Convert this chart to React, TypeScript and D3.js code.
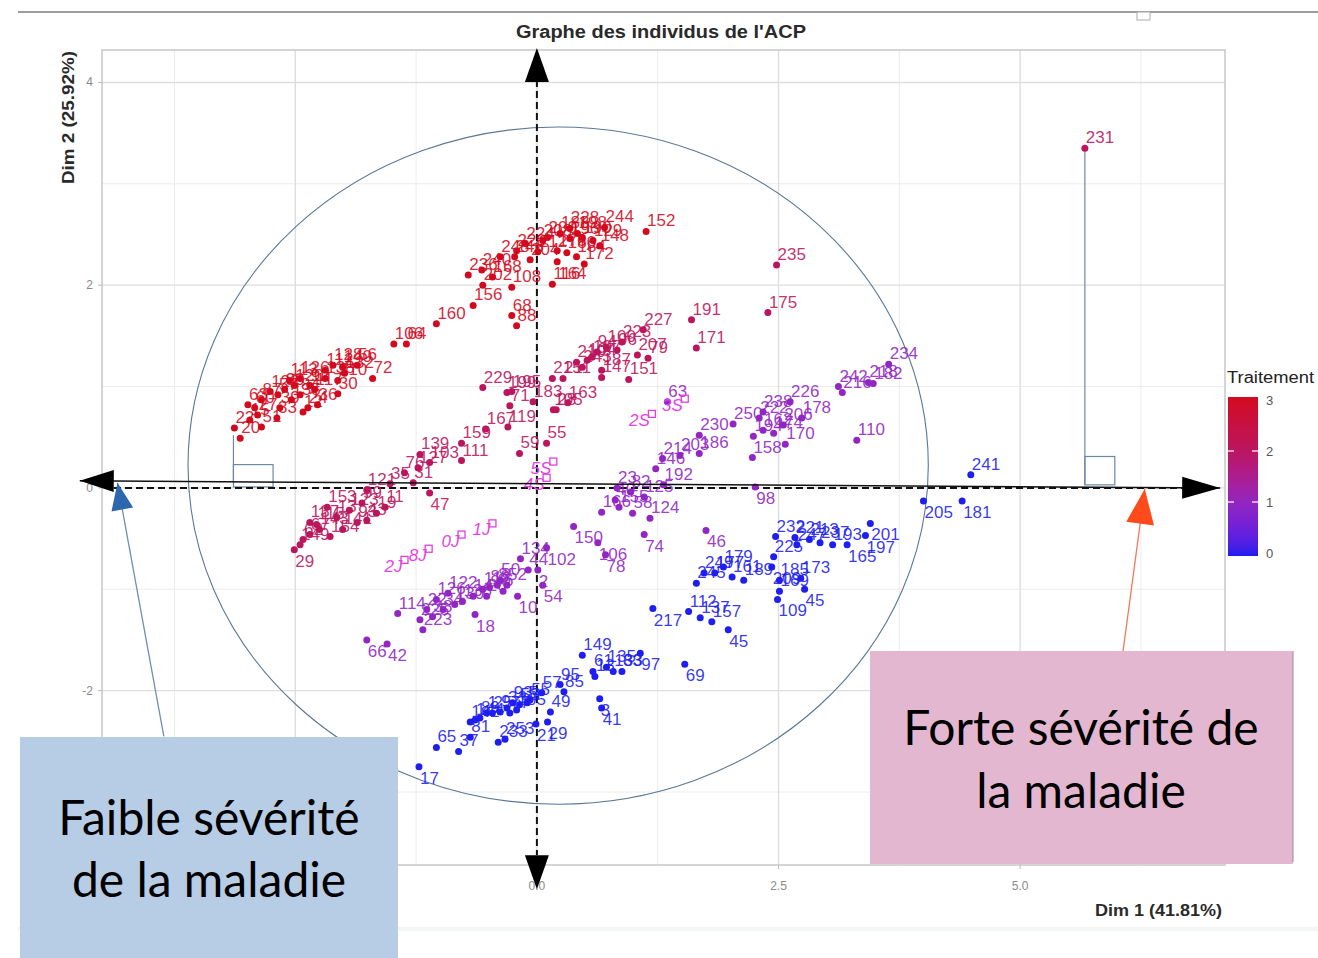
import React from "react";
import * as d3 from "d3";

type Ind = [string, number, number];

// Individuals, grouped by Traitement value (label, Dim 1, Dim 2)
const indT3: Ind[] = [
  ["160", -1.04, 1.62], ["106", -1.48, 1.42], ["64", -1.35, 1.42], ["56", -1.86, 1.21],
  ["72", -1.70, 1.08], ["140", -2.01, 1.19], ["128", -2.11, 1.21], ["112", -2.19, 1.16],
  ["138", -2.19, 1.08], ["92", -2.35, 1.01], ["210", -2.06, 1.06], ["113", -2.56, 1.06],
  ["120", -2.51, 1.01], ["126", -2.45, 1.08], ["57", -2.68, 0.92], ["63", -2.99, 0.82],
  ["87", -2.85, 0.87], ["60", -2.92, 0.79], ["20", -3.07, 0.49], ["22", -3.13, 0.59],
  ["30", -2.06, 0.93], ["36", -2.27, 0.82], ["24", -2.37, 0.79], ["12", -2.42, 0.75],
  ["39", -2.66, 0.79], ["33", -2.69, 0.69], ["51", -2.85, 0.60], ["27", -2.89, 0.72],
  ["90", -2.61, 0.97], ["84", -2.45, 0.92], ["135", -2.54, 0.87], ["117", -2.30, 0.97],
  ["122", -2.76, 0.95], ["15", -2.97, 0.67], ["132", -1.99, 1.13],
  ["224", -0.12, 2.41], ["152", 1.13, 2.53], ["244", 0.70, 2.57], ["228", 0.34, 2.56],
  ["198", 0.42, 2.51], ["172", 0.49, 2.21], ["164", 0.21, 2.23], ["116", 0.16, 2.01],
  ["168", -0.46, 2.08], ["108", -0.26, 1.98], ["68", -0.26, 1.70], ["88", -0.21, 1.60],
  ["156", -0.66, 1.80], ["236", -0.71, 2.10], ["202", -0.56, 2.00], ["240", -0.57, 2.15],
  ["248", -0.38, 2.28], ["246", -0.23, 2.28], ["220", -0.21, 2.34], ["204", -0.07, 2.25],
  ["212", 0.01, 2.33], ["208", 0.06, 2.44], ["200", 0.11, 2.47], ["176", 0.21, 2.34],
  ["180", 0.31, 2.32], ["184", 0.41, 2.28], ["196", 0.34, 2.46], ["188", 0.24, 2.51],
  ["190", 0.47, 2.47], ["129", 0.58, 2.44], ["148", 0.65, 2.39],
];

const indT2: Ind[] = [
  ["227", 1.10, 1.56], ["191", 1.60, 1.66], ["171", 1.65, 1.38], ["235", 2.48, 2.20],
  ["175", 2.39, 1.73], ["231", 5.67, 3.35], ["223", 0.88, 1.44], ["207", 1.04, 1.31],
  ["79", 1.15, 1.28], ["151", 0.95, 1.07], ["147", 0.67, 1.09], ["187", 0.67, 1.16],
  ["163", 0.32, 0.84], ["105", 0.17, 0.77], ["28", 0.20, 0.77], ["215", 0.16, 1.08],
  ["211", 0.27, 1.08], ["219", 0.41, 1.24], ["243", 0.47, 1.19], ["104", 0.52, 1.26],
  ["107", 0.57, 1.29], ["94", 0.62, 1.34], ["100", 0.72, 1.39], ["96", 0.83, 1.36],
  ["55", 0.10, 0.44], ["59", -0.18, 0.34], ["119", -0.30, 0.60], ["167", -0.53, 0.58],
  ["229", -0.56, 0.99], ["199", -0.31, 0.94], ["195", -0.26, 0.95], ["183", -0.04, 0.85],
  ["71", -0.28, 0.81], ["159", -0.78, 0.44], ["111", -0.78, 0.27], ["103", -1.11, 0.25],
  ["127", -1.23, 0.20], ["76", -1.37, 0.15], ["139", -1.21, 0.33], ["47", -1.11, -0.05],
  ["31", -1.28, 0.05], ["35", -1.52, 0.04],
  ["29", -2.51, -0.61], ["62", -2.42, -0.51], ["67", -2.35, -0.46], ["115", -2.28, -0.36],
  ["153", -2.17, -0.19], ["123", -1.94, -0.22], ["13", -2.07, -0.29], ["154", -2.14, -0.48],
  ["141", -2.01, -0.41], ["93", -1.86, -0.34], ["43", -1.76, -0.32], ["19", -1.66, -0.25],
  ["11", -1.57, -0.19], ["99", -1.81, -0.15], ["121", -1.76, -0.02], ["137", -2.35, -0.34],
  ["143", -2.25, -0.41], ["149", -2.45, -0.56],
];

const indT1: Ind[] = [
  ["234", 3.64, 1.22], ["182", 3.48, 1.03], ["242", 3.12, 1.00], ["216", 3.16, 0.94],
  ["218", 3.43, 1.04], ["226", 2.62, 0.85], ["178", 2.74, 0.69], ["238", 2.34, 0.75],
  ["206", 2.55, 0.62], ["222", 2.30, 0.69], ["162", 2.34, 0.57], ["174", 2.45, 0.54],
  ["170", 2.57, 0.43], ["194", 2.24, 0.51], ["158", 2.23, 0.30], ["250", 2.03, 0.63],
  ["186", 1.68, 0.34], ["230", 1.68, 0.52], ["203", 1.48, 0.32], ["214", 1.30, 0.29],
  ["146", 1.23, 0.19], ["110", 3.31, 0.47], ["98", 2.26, 0.01], ["192", 1.31, 0.03],
  ["63", 1.35, 0.85],
  ["23", 0.83, 0.00], ["82", 0.97, -0.04], ["125", 1.11, -0.09], ["40", 0.81, -0.12],
  ["150", 0.38, -0.38], ["166", 0.67, -0.24], ["155", 0.85, -0.19], ["58", 0.99, -0.25],
  ["124", 1.17, -0.30], ["106", 0.63, -0.54], ["78", 0.71, -0.66], ["74", 1.11, -0.46],
  ["102", 0.10, -0.59], ["46", 1.75, -0.42],
  ["114", -1.44, -1.24], ["66", -1.76, -1.50], ["42", -1.55, -1.54], ["134", -0.17, -0.70],
  ["10", -0.20, -1.07], ["54", 0.06, -0.96], ["2", 0.01, -0.81], ["44", -0.09, -0.81],
  ["52", -0.31, -0.96], ["18", -0.64, -1.25], ["122", -0.92, -1.04], ["126", -1.04, -1.10],
  ["22", -1.14, -1.20], ["225", -1.21, -1.30], ["223", -1.18, -1.40], ["38", -1.08, -1.27],
  ["34", -0.97, -1.20], ["130", -0.85, -1.15], ["138", -0.77, -1.12], ["14", -0.66, -1.07],
  ["118", -0.56, -1.00], ["86", -0.49, -0.98], ["8", -0.41, -0.96], ["50", -0.38, -0.91],
  ["26", -0.52, -1.07], ["6", -0.35, -1.02],
];

const indT0: Ind[] = [
  ["17", -1.22, -2.75], ["65", -1.04, -2.56], ["37", -0.81, -2.60], ["81", -0.69, -2.46],
  ["233", -0.40, -2.51], ["253", -0.33, -2.48], ["142", -0.69, -2.31], ["144", -0.64, -2.29],
  ["21", -0.01, -2.33], ["57", 0.05, -2.02], ["29", 0.11, -2.31], ["49", 0.14, -2.21],
  ["95", 0.24, -1.94], ["85", 0.28, -2.01], ["149", 0.47, -1.65], ["61", 0.58, -1.81],
  ["13", 0.60, -1.86], ["135", 0.72, -1.77], ["133", 0.79, -1.81], ["83", 0.88, -1.81],
  ["97", 1.07, -1.63], ["3", 0.65, -2.08], ["41", 0.67, -2.17], ["217", 1.20, -1.19],
  ["55", -0.07, -2.09], ["5", -0.10, -2.12], ["53", -0.18, -2.14], ["93", -0.25, -2.12],
  ["33", -0.31, -2.17], ["9", -0.38, -2.21], ["25", -0.46, -2.22], ["1", -0.52, -2.22],
  ["89", -0.59, -2.27], ["77", -0.28, -2.22], ["105", -0.21, -2.19],
  ["241", 4.49, 0.13], ["205", 4.00, -0.13], ["181", 4.40, -0.13], ["201", 3.45, -0.35],
  ["197", 3.40, -0.47], ["165", 3.21, -0.56], ["232", 2.47, -0.48], ["221", 2.67, -0.49],
  ["213", 2.82, -0.51], ["237", 2.93, -0.54], ["193", 3.06, -0.56], ["225", 2.45, -0.68],
  ["247", 2.69, -0.56], ["209", 2.43, -0.78], ["185", 2.51, -0.91], ["173", 2.73, -0.89],
  ["169", 2.51, -1.02], ["45", 2.77, -1.00], ["109", 2.49, -1.10], ["189", 2.14, -0.91],
  ["245", 1.65, -0.94], ["249", 1.73, -0.84], ["177", 1.84, -0.84], ["179", 1.93, -0.78],
  ["161", 2.02, -0.88], ["112", 1.57, -1.22], ["137", 1.69, -1.28], ["157", 1.81, -1.32],
  ["45", 1.98, -1.40], ["69", 1.53, -1.74],
];

// Supplementary individuals (open squares)
const suppInd: Ind[] = [
  ["2J", -1.37, -0.71], ["8J", -1.12, -0.60], ["0J", -0.78, -0.46], ["1J", -0.46, -0.35],
  ["4S", 0.10, 0.10], ["5S", 0.17, 0.26], ["3S", 1.53, 0.88], ["2S", 1.19, 0.73],
];

const groups: { t: number; data: Ind[] }[] = [
  { t: 3, data: indT3 },
  { t: 2, data: indT2 },
  { t: 1, data: indT1 },
  { t: 0, data: indT0 },
];

// labels drawn below their point ("id@traitement")
const labelBelow = new Set([
  "205@0", "181@0", "109@0", "17@0", "69@0", "201@0", "197@0", "165@0", "217@0", "97@0",
  "41@0", "3@0", "21@0", "29@0", "45@0", "209@0", "98@1", "46@1", "74@1", "78@1", "102@1",
  "106@1", "2@1", "54@1", "10@1", "18@1", "42@1", "66@1", "150@1", "47@2", "29@2", "164@3",
]);

const traitementDomain = [0, 1, 2, 3];
const traitementColors = ["#1e1ef0", "#9226c2", "#bb155e", "#d30a1e"];

const xMajor = [-2.5, 0, 2.5, 5.0];
const xMinor = [-3.75, -1.25, 1.25, 3.75, 6.25];
const yMajor = [-2, 0, 2, 4];
const yMinor = [-3, -1, 1, 3];
const legendTicks = [0, 1, 2, 3];

const W = 1318;
const H = 958;
const P = { l: 102, t: 50, r: 1225, b: 865 };

function head(x1: number, y1: number, x2: number, y2: number, len: number, hw: number) {
  const dx = x2 - x1, dy = y2 - y1;
  const L = Math.hypot(dx, dy);
  const ux = dx / L, uy = dy / L;
  const bx = x2 - ux * len, by = y2 - uy * len;
  return `M${x2},${y2}L${bx - uy * hw},${by + ux * hw}L${bx + uy * hw},${by - ux * hw}Z`;
}

export default function App() {
  const x = d3.scaleLinear().domain([-4.5, 7.12]).range([P.l, P.r]);
  const y = d3.scaleLinear().domain([-3.72, 4.32]).range([P.b, P.t]);
  const color = d3
    .scaleLinear<string>()
    .domain(traitementDomain)
    .range(traitementColors)
    .interpolate(d3.interpolateLab);
  const ly = d3.scaleLinear().domain([0, 3]).range([553, 400]);
  const labelFont = "Liberation Sans, Arial, sans-serif";

  // annotation geometry in data units
  const hArrow = { a: [-4.73, 0.07], b: [7.07, 0.0] };
  const vArrow = { a: [0, 4.34], b: [0, -3.96] };
  const blueArrow = { a: [-3.86, -2.45], b: [-4.34, 0.05] };
  const redArrow = { a: [6.06, -1.65], b: [6.29, -0.01] };
  const ell = { cx: 0.22, cy: 0.22, rx: 3.83, ry: 3.34 };

  const px = (p: number[]) => [x(p[0]), y(p[1])];
  const ha = px(hArrow.a), hb = px(hArrow.b);
  const va = px(vArrow.a), vb = px(vArrow.b);
  const ba = px(blueArrow.a), bb = px(blueArrow.b);
  const ra = px(redArrow.a), rb = px(redArrow.b);

  const stops = d3.range(0, 1.0001, 0.05);

  return (
    <svg width={W} height={H} style={{ position: "absolute", left: 0, top: 0, background: "#fff" }}>
      <defs>
        <linearGradient id="lg" x1="0" y1="1" x2="0" y2="0">
          {stops.map((s) => (
            <stop key={s} offset={s} stopColor={color(s * 3)} />
          ))}
        </linearGradient>
      </defs>
      <rect x={0} y={0} width={W} height={H} fill="#fff" />
      {/* page decorations */}
      <line x1={18} x2={W} y1={12} y2={12} stroke="#9c9c9c" strokeWidth={2} />
      <rect x={1137} y={12} width={13} height={8} fill="#fff" stroke="#aaa" strokeWidth={1} />
      <rect x={18} y={927} width={W - 18} height={4} fill="#f1f5f5" />

      {/* grid */}
      {xMinor.map((v) => (
        <line key={"xm" + v} x1={x(v)} x2={x(v)} y1={P.t} y2={P.b} stroke="#ececec" strokeWidth={1} />
      ))}
      {yMinor.map((v) => (
        <line key={"ym" + v} y1={y(v)} y2={y(v)} x1={P.l} x2={P.r} stroke="#ececec" strokeWidth={1} />
      ))}
      {xMajor.map((v) => (
        <line key={"xM" + v} x1={x(v)} x2={x(v)} y1={P.t} y2={P.b} stroke="#dedede" strokeWidth={1.4} />
      ))}
      {yMajor.map((v) => (
        <line key={"yM" + v} y1={y(v)} y2={y(v)} x1={P.l} x2={P.r} stroke="#dedede" strokeWidth={1.4} />
      ))}
      <rect x={P.l} y={P.t} width={P.r - P.l} height={P.b - P.t} fill="none" stroke="#c4c4c4" strokeWidth={1.4} />

      {/* ticks */}
      {yMajor.map((v) => (
        <g key={"yt" + v}>
          <line x1={P.l - 4} x2={P.l} y1={y(v)} y2={y(v)} stroke="#bbb" />
          <text x={P.l - 9} y={y(v) + 4} textAnchor="end" fontSize={12} fill="#8a8a8a" fontFamily={labelFont}>
            {v}
          </text>
        </g>
      ))}
      {xMajor.map((v) => (
        <g key={"xt" + v}>
          <line x1={x(v)} x2={x(v)} y1={P.b} y2={P.b + 4} stroke="#bbb" />
          <text x={x(v)} y={P.b + 25} textAnchor="middle" fontSize={12} fill="#8a8a8a" fontFamily={labelFont}>
            {v.toFixed(1)}
          </text>
        </g>
      ))}

      {/* ellipse */}
      <ellipse
        cx={x(ell.cx)}
        cy={y(ell.cy)}
        rx={x(ell.cx + ell.rx) - x(ell.cx)}
        ry={y(ell.cy) - y(ell.cy + ell.ry)}
        fill="none"
        stroke="#5a7896"
        strokeWidth={1.1}
      />

      {/* projection marks */}
      <line x1={x(5.67)} x2={x(5.67)} y1={y(3.35)} y2={y(0.03)} stroke="#6d87a6" strokeWidth={1.2} />
      <rect x={x(5.67)} y={y(0.31)} width={x(5.98) - x(5.67)} height={y(0.03) - y(0.31)} fill="none" stroke="#6d87a6" strokeWidth={1.2} />
      <line x1={x(-3.14)} x2={x(-3.14)} y1={y(0.52)} y2={y(0.07)} stroke="#6d87a6" strokeWidth={1.2} />
      <rect x={x(-3.14)} y={y(0.23)} width={x(-2.73) - x(-3.14)} height={y(0.01) - y(0.23)} fill="none" stroke="#6d87a6" strokeWidth={1.2} />

      {/* axes at zero (dashed) */}
      <line x1={P.l + 12} x2={P.r - 40} y1={y(0)} y2={y(0)} stroke="#111" strokeWidth={2} strokeDasharray="7 4" />
      <line x1={x(0)} x2={x(0)} y1={P.t + 30} y2={P.b - 10} stroke="#111" strokeWidth={2} strokeDasharray="7 4" />

      {/* individuals */}
      {groups.map((g) =>
        g.data.map((d, i) => (
          <circle key={`p${g.t}-${i}`} cx={x(d[1])} cy={y(d[2])} r={3.5} fill={color(g.t)} />
        ))
      )}
      {groups.map((g) =>
        g.data.map((d, i) => {
          const below = labelBelow.has(`${d[0]}@${g.t}`);
          return (
            <text
              key={`l${g.t}-${i}`}
              x={x(d[1]) + 1}
              y={y(d[2]) + (below ? 17 : -5)}
              fontSize={17}
              fill={color(g.t)}
              fillOpacity={0.9}
              fontFamily={labelFont}
            >
              {d[0]}
            </text>
          );
        })
      )}
      {suppInd.map((d, i) => (
        <g key={"s" + i}>
          <rect x={x(d[1]) - 3.5} y={y(d[2]) - 3.5} width={7} height={7} fill="none" stroke="#e040e0" strokeWidth={1.3} />
          <text
            x={x(d[1]) - 2}
            y={y(d[2]) + 12}
            textAnchor="end"
            fontSize={17}
            fontStyle="italic"
            fill="#e444e4"
            fontFamily={labelFont}
          >
            {d[0]}
          </text>
        </g>
      ))}

      {/* axis arrows */}
      <line x1={ha[0]} y1={ha[1]} x2={hb[0]} y2={hb[1]} stroke="#111" strokeWidth={1.5} />
      <path d={head(hb[0], hb[1], ha[0], ha[1], 34, 11)} fill="#000" />
      <path d={head(ha[0], ha[1], hb[0], hb[1], 38, 11)} fill="#000" />
      <path d={head(vb[0], vb[1], va[0], va[1], 34, 12)} fill="#000" />
      <path d={head(va[0], va[1], vb[0], vb[1], 34, 12)} fill="#000" />

      {/* severity arrows */}
      <line x1={ba[0]} y1={ba[1]} x2={bb[0]} y2={bb[1]} stroke="#6f8fb3" strokeWidth={1.3} />
      <path d={head(ba[0], ba[1], bb[0], bb[1], 27, 11)} fill="#2e67ad" />
      <line x1={ra[0]} y1={ra[1]} x2={rb[0]} y2={rb[1]} stroke="#f07a5a" strokeWidth={1.3} />
      <path d={head(ra[0], ra[1], rb[0], rb[1], 35, 14)} fill="#ff4a1c" />

      {/* legend */}
      <text x={1227} y={383} fontSize={16} textLength={87} lengthAdjust="spacingAndGlyphs" fill="#222" fontFamily={labelFont}>
        Traitement
      </text>
      <rect x={1228} y={ly(3) - 3} width={30} height={ly(0) - ly(3) + 6} fill="url(#lg)" />
      {legendTicks.map((v) => (
        <g key={"lt" + v}>
          {v > 0 && v < 3 && (
            <>
              <line x1={1228} x2={1234} y1={ly(v)} y2={ly(v)} stroke="#fff" strokeWidth={1.2} />
              <line x1={1252} x2={1258} y1={ly(v)} y2={ly(v)} stroke="#fff" strokeWidth={1.2} />
            </>
          )}
          <text x={1266} y={ly(v) + 5} fontSize={13} fill="#555" fontFamily={labelFont}>
            {v}
          </text>
        </g>
      ))}

      {/* titles */}
      <text
        x={661}
        y={38}
        textAnchor="middle"
        fontSize={18}
        textLength={290}
        lengthAdjust="spacingAndGlyphs"
        fontWeight="bold"
        fill="#2a2a2a"
        fontFamily={labelFont}
      >
        Graphe des individus de l'ACP
      </text>
      <text
        x={1222}
        y={916}
        textAnchor="end"
        fontSize={16}
        textLength={127}
        lengthAdjust="spacingAndGlyphs"
        fontWeight="bold"
        fill="#2a2a2a"
        fontFamily={labelFont}
      >
        Dim 1 (41.81%)
      </text>
      <text
        transform={`translate(74,51) rotate(-90)`}
        textAnchor="end"
        fontSize={16}
        textLength={133}
        lengthAdjust="spacingAndGlyphs"
        fontWeight="bold"
        fill="#2a2a2a"
        fontFamily={labelFont}
      >
        Dim 2 (25.92%)
      </text>

      {/* annotation boxes */}
      <rect x={20} y={737} width={378} height={H - 737} fill="#b7cce5" />
      <text x={209} y={835} textAnchor="middle" fontSize={48} fill="#000" fontFamily="Lato, sans-serif">
        Faible sévérité
      </text>
      <text x={209} y={897} textAnchor="middle" fontSize={48} fill="#000" fontFamily="Lato, sans-serif">
        de la maladie
      </text>
      <rect x={870} y={651} width={423} height={213} fill="#e3b7cf" />
      <line x1={1293} x2={1293} y1={651} y2={862} stroke="#b08090" strokeWidth={1} />
      <text x={1081} y={745} textAnchor="middle" fontSize={48} fill="#000" fontFamily="Lato, sans-serif">
        Forte sévérité de
      </text>
      <text x={1081} y={808} textAnchor="middle" fontSize={48} fill="#000" fontFamily="Lato, sans-serif">
        la maladie
      </text>
    </svg>
  );
}
